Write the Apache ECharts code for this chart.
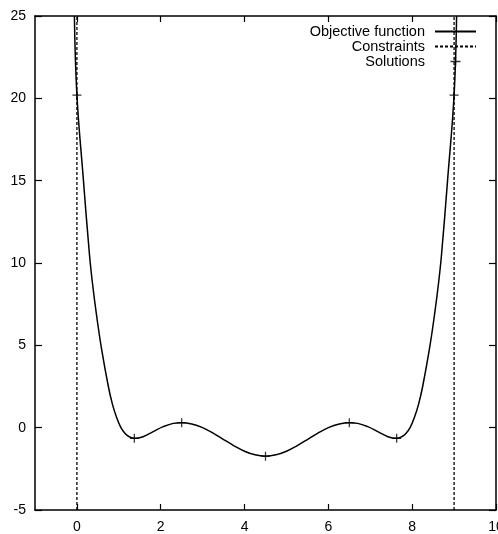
<!DOCTYPE html>
<html>
<head>
<meta charset="utf-8">
<script src="https://cdn.jsdelivr.net/npm/echarts@6/dist/echarts.min.js"></script>
<style>
html,body{margin:0;padding:0;background:#fff;}
#chart{width:498px;height:534px;}
</style>
</head>
<body>
<div id="chart"></div>
<script>
// Objective function
var objX = [-0.06, 0, 0.15, 0.30, 0.37, 0.47, 0.59, 0.75, 0.85, 0.95, 1.05, 1.15, 1.25, 1.37, 1.58, 1.82, 2.06, 2.30, 2.5,
            2.74, 3.0, 3.25, 3.5, 3.75, 4.0, 4.25, 4.5,
            4.75, 5.0, 5.25, 5.5, 5.75, 6.0, 6.26, 6.5, 6.70, 6.94, 7.18, 7.42, 7.63, 7.75, 7.85, 7.95, 8.05, 8.15, 8.25,
            8.41, 8.53, 8.63, 8.70, 8.85, 9.0, 9.06];
var objY = [25, 20.2, 15.2, 10.5, 8.8, 6.8, 4.75, 2.5, 1.4, 0.6, 0.0, -0.35, -0.55, -0.65, -0.55, -0.24, 0.06, 0.26, 0.30,
            0.22, 0.0, -0.33, -0.72, -1.10, -1.43, -1.65, -1.73,
            -1.65, -1.43, -1.10, -0.72, -0.33, 0.0, 0.22, 0.30, 0.26, 0.06, -0.24, -0.55, -0.65, -0.55, -0.35, 0.0, 0.6, 1.4, 2.5,
            4.75, 6.8, 8.8, 10.5, 15.2, 20.2, 25];
// Constraints (vertical lines)
var constraintX = [0, 9];
// Solutions
var solX = [0, 1.37, 2.5, 4.5, 6.5, 7.63, 9.0];
var solY = [20.2, -0.65, 0.30, -1.73, 0.30, -0.65, 20.2];
// Axes
var xTicks = [0, 2, 4, 6, 8, 10];
var yTicks = [-5, 0, 5, 10, 15, 20, 25];
var xRange = [-1, 10];
var yRange = [-5, 25];

var FONT = 'Liberation Sans';
var plus = 'path://M4.3,0H5.7V4.3H10V5.7H5.7V10H4.3V5.7H0V4.3H4.3Z';

var series = [];
series.push({
  name: 'Objective function', type: 'line', xAxisIndex: 0, yAxisIndex: 0,
  data: objX.map(function (x, i) { return [x, objY[i]]; }),
  symbol: 'none', smooth: 0.4, clip: true,
  lineStyle: { color: '#000', width: 1.5 }, itemStyle: { color: '#000' }, z: 3
});
constraintX.forEach(function (cx) {
  series.push({
    name: 'Constraints', type: 'line', xAxisIndex: 0, yAxisIndex: 0,
    data: [[cx, yRange[0]], [cx, yRange[1]]], symbol: 'none',
    lineStyle: { color: '#000', width: 1.3, type: [3, 2] }, itemStyle: { color: '#000' }, z: 2
  });
});
series.push({
  name: 'Solutions', type: 'scatter', xAxisIndex: 0, yAxisIndex: 0,
  data: solX.map(function (x, i) { return [x, solY[i]]; }),
  symbol: plus, symbolSize: 9, symbolKeepAspect: true,
  itemStyle: { color: '#000' }, z: 4
});

function xAx(pos, labels) {
  return {
    type: 'value', position: pos, min: xRange[0], max: xRange[1],
    axisLine: { show: true, onZero: false, lineStyle: { color: '#000', width: 1.5 } },
    axisTick: { show: true, inside: true, length: 6, customValues: xTicks, lineStyle: { color: '#000', width: 1.2 } },
    axisLabel: { show: labels, customValues: xTicks, margin: 10, color: '#000', fontFamily: FONT, fontSize: 14 },
    splitLine: { show: false }
  };
}
function yAx(pos, labels) {
  return {
    type: 'value', position: pos, min: yRange[0], max: yRange[1], interval: 5,
    axisLine: { show: true, onZero: false, lineStyle: { color: '#000', width: 1.5 } },
    axisTick: { show: true, inside: true, length: 7, customValues: yTicks, lineStyle: { color: '#000', width: 1.2 } },
    axisLabel: { show: labels, customValues: yTicks, margin: 9, color: '#000', fontFamily: FONT, fontSize: 14 },
    splitLine: { show: false }
  };
}

var chart = echarts.init(document.getElementById('chart'), null, { renderer: 'canvas' });
chart.setOption({
  backgroundColor: '#fff',
  animation: false,
  grid: { left: 35, right: 2, top: 16, bottom: 24, containLabel: false, outerBoundsMode: 'none' },
  xAxis: [xAx('bottom', true), xAx('top', false)],
  yAxis: [yAx('left', true), yAx('right', false)],
  legend: {
    orient: 'vertical', right: 16, top: 19, align: 'right',
    itemWidth: 41, itemHeight: 10, itemGap: 0,
    data: [
      { name: 'Objective function', itemStyle: { opacity: 0 } },
      { name: 'Constraints', itemStyle: { opacity: 0 } },
      'Solutions'
    ],
    textStyle: { color: '#000', fontFamily: FONT, fontSize: 14.5, lineHeight: 14, padding: [0, 5, 0, 0] },
    inactiveColor: '#000'
  },
  series: series
});
</script>
</body>
</html>
